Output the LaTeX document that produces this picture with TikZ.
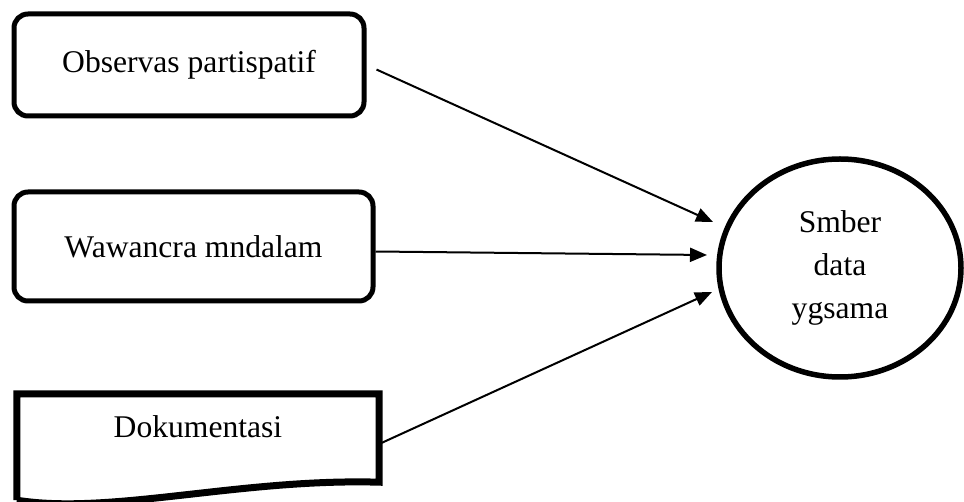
\documentclass[tikz,border=0pt]{standalone}
\usepackage{fontspec}
\setmainfont{Liberation Serif}
\usetikzlibrary{shapes.geometric, arrows.meta, positioning}

\begin{document}
\begin{tikzpicture}[x=1pt, y=-1pt, font=\fontsize{31.6}{43}\selectfont,
  box/.style = {draw, line width=5pt, rounded corners=14pt, inner sep=0pt},
  link/.style = {-{Triangle[length=17pt, width=14pt]}, line width=2pt}]
\useasboundingbox (0,0) rectangle (964,502);

% sources
\node[box, minimum width=350pt, minimum height=102pt] (obs) at (189,65) {Observas partispatif};
\node[box, minimum width=359pt, minimum height=109pt] (waw) at (193.5,246.5) {Wawancra mndalam};
\node[minimum width=362pt, minimum height=88pt, inner sep=0pt] (doc) at (198,438) {};
\node (dokt) at (198,427) {Dokumentasi};
\draw[line width=7pt] ([yshift=-18pt]doc.south west) -- (doc.north west) -- (doc.north east) -- (doc.south east)
  .. controls +(-139,-4) and +(93,15) .. ([yshift=-18pt]doc.south west);

% target
\node[ellipse, draw, line width=5.5pt, minimum width=242pt, minimum height=218pt, inner sep=0pt, align=center] (src) at (840,268) {Smber\\data\\ygsama};

\coordinate (t1) at (713,222);
\coordinate (t2) at (707,255);
\coordinate (t3) at (712,292);

\draw[link, shorten <=11pt] (obs.east) -- (t1);
\draw[link] ([yshift=-5pt]waw.east) -- (t2);
\draw[link] ([yshift=-6pt]doc.east) -- (t3);
\end{tikzpicture}
\end{document}
